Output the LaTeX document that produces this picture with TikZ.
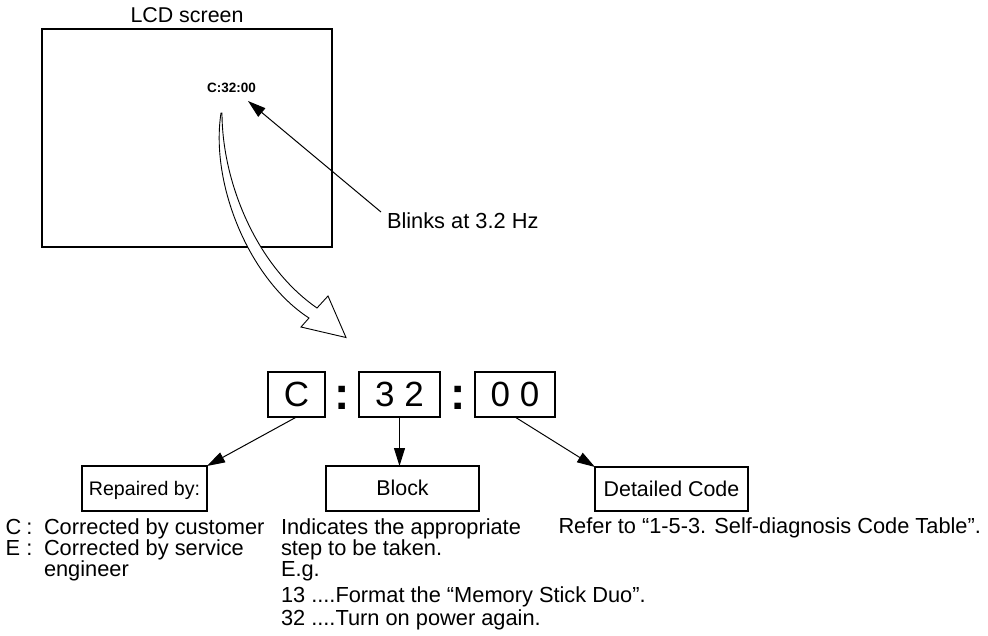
\documentclass[tikz,border=0pt]{standalone}
\usepackage{fontspec}
\setmainfont{Liberation Sans}
\usetikzlibrary{arrows.meta}
\begin{document}
\begin{tikzpicture}[x=1pt,y=-1pt,
  every node/.style={inner sep=0pt, outer sep=0pt, font=\fontsize{21.8}{21}\selectfont},
  txt/.style={anchor=base west},
  box/.style={draw, line width=1.3pt, text height=16pt, text depth=2pt},
  digitbox/.style={draw, line width=1.5pt, minimum height=45pt, font=\fontsize{35}{35}\selectfont},
  colonmark/.style={anchor=base, font=\bfseries\fontsize{46}{46}\selectfont},
  conn/.style={line width=1pt, -{Triangle[length=18pt,width=11pt]}},
]
\useasboundingbox (0,0) rectangle (988,635);

% LCD screen
\node[draw, line width=1.2pt, minimum width=290pt, minimum height=218pt] (lcd) at (187,138) {};
\node[anchor=base, font=\fontsize{21.4}{21}\selectfont] (lcdlbl) at (187,22) {LCD screen};
\node[anchor=base, font=\bfseries\fontsize{13.5}{13.5}\selectfont] (small) at (231.5,92) {C:32:00};

% Blinks label and arrow
\node[txt] (blinks) at (387,228) {Blinks at 3.2 Hz};
\coordinate (bstart) at (381,212);
\coordinate (btip) at (248,101);
\draw[conn] (bstart) -- (btip);

% big hollow curved arrow
\draw[line width=0.9pt, fill=white, line join=miter]
  (221,113) .. controls (210,185) and (250,280) .. (309,318)
  -- (301,327) -- (346,337.5) -- (328,296) -- (317,308)
  .. controls (255,265) and (222,180) .. (222,113) -- cycle;

% code boxes
\node[digitbox, minimum width=57pt] (bc) at (296.5,394.5) {C};
\node[colonmark] (col1) at (342,409) {:};
\node[digitbox, minimum width=81pt] (b32) at (399.5,394.5) {3 2};
\node[colonmark] (col2) at (458,409) {:};
\node[digitbox, minimum width=80pt] (b00) at (515,394.5) {0 0};

% lower boxes
\node[box, minimum width=125pt, minimum height=45pt, font=\fontsize{19.6}{20}\selectfont] (rep) at (144.5,488.5) {Repaired by:};
\node[box, minimum width=153pt, minimum height=45pt, font=\fontsize{21.4}{21}\selectfont] (blk) at (402.5,488.5) {Block};
\node[box, minimum width=153pt, minimum height=44pt, font=\fontsize{21.4}{21}\selectfont] (det) at (671.5,489) {Detailed Code};

\draw[conn] (bc.south) -- (rep.north east);
\draw[conn] (b32.south) -- (b32.south |- blk.north);
\draw[conn] (b00.south) -- (det.north west);

% Repaired by text
\node[txt] (cl) at (5.5,534) {C};
\node[txt] (clc) at (26.5,534) {:};
\node[txt] (ct) at (44,534) {Corrected by customer};
\node[txt] (el) at (5.5,555) {E};
\node[txt] (elc) at (26.5,555) {:};
\node[txt] (et) at (44,555) {Corrected by service};
\node[txt] (et2) at (44,576) {engineer};

% Block text
\node[txt] (bl1) at (281,534) {Indicates the appropriate};
\node[txt] (bl2) at (281,555) {step to be taken.};
\node[txt] (bl3) at (281,576) {E.g.};
\node[txt] (bl4) at (281,602) {13 ....Format the “Memory Stick Duo”.};
\node[txt] (bl5) at (281,625) {32 ....Turn on power again.};

% Detailed code text
\node[txt] (ref) at (558.5,533) {Refer to “1-5-3. Self-diagnosis Code Table”.};
\end{tikzpicture}
\end{document}
